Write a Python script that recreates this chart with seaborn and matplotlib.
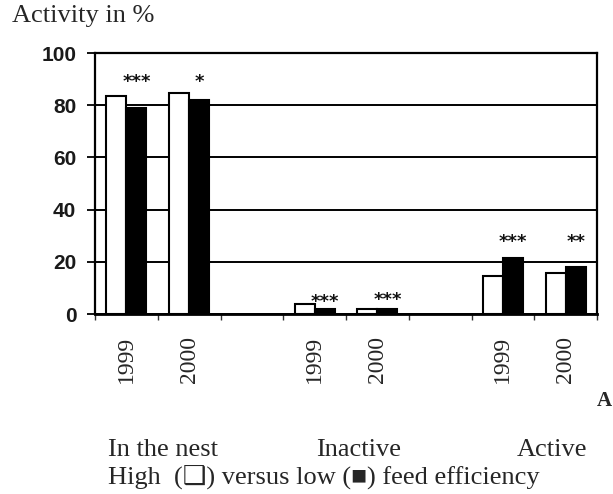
import matplotlib
matplotlib.use("Agg")
import matplotlib.pyplot as plt
import seaborn as sns
import pandas as pd
import numpy as np

# ---- data ----
activities = ["In the nest", "In the nest", "Inactive", "Inactive", "Active", "Active"]
years = ["1999", "2000", "1999", "2000", "1999", "2000"]
high_fe = [83.5, 84.5, 3.8, 1.8, 14.6, 15.7]   # white bars
low_fe = [79.0, 82.0, 2.0, 2.0, 21.5, 18.0]    # black bars
stars = ["***", "*", "***", "***", "***", "**"]
star_y = [89.0, 89.0, 4.6, 5.4, 27.5, 27.5]
y_ticks = [0, 20, 40, 60, 80, 100]

slot_order = ["In the nest 1999", "In the nest 2000", "gap1",
              "Inactive 1999", "Inactive 2000", "gap2",
              "Active 1999", "Active 2000"]
slot_labels = ["1999", "2000", "", "1999", "2000", "", "1999", "2000"]

rows = []
for a, yr, h, l in zip(activities, years, high_fe, low_fe):
    rows.append({"slot": f"{a} {yr}", "eff": "High", "value": h})
    rows.append({"slot": f"{a} {yr}", "eff": "Low", "value": l})
df = pd.DataFrame(rows)

sns.set_style("white")
plt.rcParams["font.family"] = ["Liberation Serif", "DejaVu Sans"]

fig = plt.figure(figsize=(6.13, 4.94), dpi=100)
ax = fig.add_axes([95 / 613, 1 - 314 / 494, (597 - 95) / 613, (314 - 53) / 494])

sns.barplot(data=df, x="slot", y="value", hue="eff", order=slot_order,
            hue_order=["High", "Low"], palette={"High": "white", "Low": "black"},
            edgecolor="black", linewidth=1.5, width=0.64, errorbar=None,
            legend=False, ax=ax, zorder=3)

ax.set_xlim(-0.5, 7.5)
ax.set_ylim(0, 100)
ax.set_xlabel("")
ax.set_ylabel("")

# gridlines behind bars
ax.set_axisbelow(True)
ax.yaxis.grid(True, color="black", linewidth=1.4)
ax.xaxis.grid(False)

for s in ["left", "right", "top", "bottom"]:
    ax.spines[s].set_visible(True)
    ax.spines[s].set_color("black")
    ax.spines[s].set_linewidth(1.6)
ax.spines["bottom"].set_linewidth(2.0)

# y ticks
ax.set_yticks(y_ticks)
ax.set_yticklabels([str(v) for v in y_ticks], family="Liberation Sans",
                   fontsize=15, fontweight="bold", color="#1a1a1a")
ax.tick_params(axis="y", direction="out", length=5.5, width=1.3, pad=8,
               color="black", left=True)

# x ticks: boundaries (major, no labels) + centres (minor, labels)
ax.set_xticks(np.arange(-0.5, 8.0, 1.0))
ax.set_xticklabels([""] * 9)
ax.tick_params(axis="x", which="major", direction="out", length=4, width=1.0,
               color="#333333", bottom=True)
ax.set_xticks(np.arange(8), minor=True)
ax.set_xticklabels(slot_labels, minor=True, rotation=90, fontsize=17,
                   family="Liberation Serif", va="top")
ax.tick_params(axis="x", which="minor", length=0, pad=16)

# significance stars above the black bars
for i, (lab, yy) in enumerate(zip(stars, star_y)):
    pos = slot_order.index(f"{activities[i]} {years[i]}")
    ax.text(pos + 0.16, yy, lab, ha="center", va="center",
            family="DejaVu Sans", fontweight="bold", fontsize=13,
            color="#111111", zorder=5)

# titles / captions
fig.text(12 / 613, 1 - 16 / 494, "Activity in %", fontsize=19, va="center",
         ha="left", family="Liberation Serif")
fig.text(108 / 613, 1 - 450 / 494, "In the nest", fontsize=19, va="center",
         ha="left")
fig.text(316 / 613, 1 - 450 / 494, "Inactive", fontsize=19, va="center",
         ha="left")
fig.text(517 / 613, 1 - 450 / 494, "Active", fontsize=19, va="center",
         ha="left")
fig.text(108 / 613, 1 - 477 / 494,
         "High  (\u2751) versus low (\u25a0) feed efficiency",
         fontsize=19, va="center", ha="left",
         family=["Liberation Serif", "DejaVu Sans"])
fig.text(597 / 613, 1 - 401 / 494, "A", fontsize=15, fontweight="bold",
         va="center", ha="left")

fig.savefig("out.png", dpi=100)
